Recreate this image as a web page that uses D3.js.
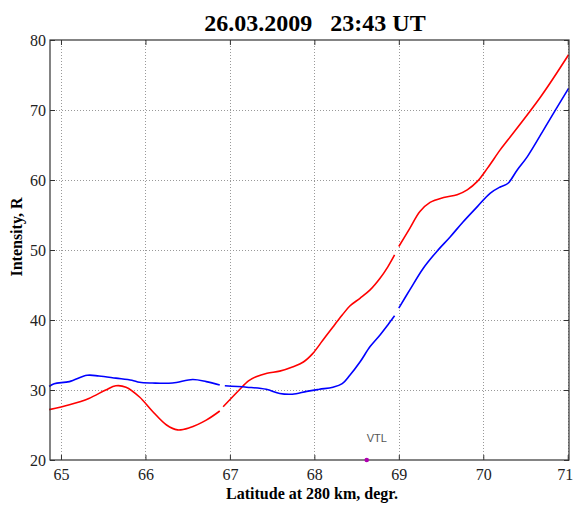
<!DOCTYPE html>
<html>
<head>
<meta charset="utf-8">
<script src="https://cdn.jsdelivr.net/npm/d3@7"></script>
<style>
  html, body { margin: 0; padding: 0; background: #fff; }
  svg { display: block; }
</style>
</head>
<body>
<svg id="chart" width="574" height="506"></svg>
<script>
// Latitude (degrees at 280 km) and intensity (R); null marks a break in the track
const redLat = [64.86, 65.10, 65.33, 65.53, 65.65, 65.77, 65.93, 66.08, 66.25, 66.38, 66.52, 66.72, 66.88, null,
                66.92, 67.11, 67.22, 67.31, 67.44, 67.59, 67.74, 67.87, 67.98, 68.10, 68.22, 68.33, 68.42, 68.54, 68.66, 68.78, 68.87, 68.95, null,
                69.00, 69.13, 69.25, 69.37, 69.53, 69.69, 69.81, 69.93, 70.05, 70.20, 70.29, 70.68, 71.01];
const redVal = [27.2, 27.9, 28.8, 30.0, 30.6, 30.4, 29.0, 27.0, 25.0, 24.3, 24.6, 25.7, 27.0, null,
                27.6, 30.0, 31.3, 31.9, 32.4, 32.7, 33.3, 34.0, 35.2, 37.1, 39.0, 40.7, 42.0, 43.1, 44.3, 46.0, 47.6, 49.3, null,
                50.5, 53.1, 55.5, 56.8, 57.5, 57.9, 58.6, 59.8, 61.7, 64.3, 65.7, 71.9, 77.9];

const blueLat = [64.86, 64.92, 65.10, 65.31, 65.45, 65.65, 65.84, 65.93, 66.08, 66.32, 66.56, 66.72, 66.88, null,
                 66.94, 67.20, 67.43, 67.59, 67.74, 67.91, 68.06, 68.22, 68.33, 68.42, 68.54, 68.66, 68.78, 68.87, 68.95, null,
                 69.00, 69.13, 69.29, 69.45, 69.61, 69.76, 69.93, 70.08, 70.20, 70.29, 70.40, 70.52, 70.76, 71.01];
const blueVal = [30.5, 30.9, 31.2, 32.1, 32.0, 31.7, 31.4, 31.1, 31.0, 31.0, 31.5, 31.2, 30.7, null,
                 30.6, 30.4, 30.1, 29.5, 29.4, 29.8, 30.1, 30.4, 30.9, 32.1, 34.0, 36.2, 37.9, 39.3, 40.6, null,
                 41.7, 44.3, 47.4, 49.8, 51.9, 54.0, 56.2, 58.1, 59.0, 59.5, 61.4, 63.3, 68.1, 73.1];

const xTicks = [65, 66, 67, 68, 69, 70, 71];
const yTicks = [20, 30, 40, 50, 60, 70, 80];

const stationName = "VTL";
const stationLat = 68.62;

const titleText = "26.03.2009   23:43 UT";
const xLabel = "Latitude at 280 km, degr.";
const yLabel = "Intensity, R";

const svg = d3.select("#chart");
const plotL = 50, plotR = 569, plotT = 40, plotB = 460;

const x = d3.scaleLinear().domain([64.870, 71.015]).range([plotL, plotR]);
const y = d3.scaleLinear().domain([20, 80]).range([plotB, plotT]);

const serif = "'Liberation Serif', 'Times New Roman', serif";
const frameColor = "#333";

// dotted grid
const grid = svg.append("g").attr("stroke", "#999").attr("stroke-width", 1)
  .attr("stroke-dasharray", "1,2").attr("shape-rendering", "crispEdges");
grid.selectAll("line.gx").data(xTicks).join("line").attr("class", "gx")
  .attr("x1", d => Math.round(x(d)) + 0.5).attr("x2", d => Math.round(x(d)) + 0.5)
  .attr("y1", plotT).attr("y2", plotB);
grid.selectAll("line.gy").data(yTicks.filter(d => d > 20 && d < 80)).join("line").attr("class", "gy")
  .attr("x1", plotL).attr("x2", plotR)
  .attr("y1", d => Math.round(y(d)) + 0.5).attr("y2", d => Math.round(y(d)) + 0.5);

// curves
function track(lats, vals) {
  return lats.map((lat, i) => ({ lat, v: vals[i] }));
}
const line = d3.line()
  .defined(d => d.lat != null && d.v != null)
  .x(d => x(d.lat)).y(d => y(d.v))
  .curve(d3.curveCatmullRom.alpha(0.5));

svg.append("path").datum(track(redLat, redVal))
  .attr("fill", "none").attr("stroke", "#ff0000").attr("stroke-width", 1.6)
  .attr("d", line);
svg.append("path").datum(track(blueLat, blueVal))
  .attr("fill", "none").attr("stroke", "#0000ff").attr("stroke-width", 1.6)
  .attr("d", line);

// axes with inward ticks on all four sides
const tickLen = 5;
const axBottom = d3.axisBottom(x).tickValues(xTicks).tickSizeInner(-tickLen).tickSizeOuter(0).tickPadding(9).tickFormat(d3.format("d"));
const axTop = d3.axisTop(x).tickValues(xTicks).tickSizeInner(-tickLen).tickSizeOuter(0).tickFormat("");
const axLeft = d3.axisLeft(y).tickValues(yTicks).tickSizeInner(-tickLen).tickSizeOuter(0).tickPadding(4).tickFormat(d3.format("d"));
const axRight = d3.axisRight(y).tickValues(yTicks).tickSizeInner(-tickLen).tickSizeOuter(0).tickFormat("");

function styleAxis(g) {
  g.attr("font-family", null).attr("font-size", null);
  g.select(".domain").remove();
  g.selectAll(".tick line").attr("stroke", frameColor);
  g.selectAll(".tick text").style("font-family", serif).style("font-size", "16px").attr("fill", "#222");
}
const gx = svg.append("g").attr("transform", `translate(0,${plotB})`).call(axBottom).call(styleAxis);
svg.append("g").attr("transform", `translate(0,${plotT})`).call(axTop).call(styleAxis);
svg.append("g").attr("transform", `translate(${plotL},0)`).call(axLeft).call(styleAxis);
svg.append("g").attr("transform", `translate(${plotR},0)`).call(axRight).call(styleAxis);
// keep the last latitude label inside the canvas
gx.selectAll(".tick text").filter(d => d === 71).attr("dx", -3);

// frame
svg.append("rect")
  .attr("x", plotL).attr("y", plotT).attr("width", plotR - plotL).attr("height", plotB - plotT)
  .attr("fill", "none").attr("stroke", frameColor).attr("stroke-width", 1.2);

// station marker
svg.append("circle")
  .attr("cx", x(stationLat)).attr("cy", plotB).attr("r", 2.3)
  .attr("fill", "#b000b0");
svg.append("text")
  .attr("x", x(stationLat) + 10).attr("y", plotB - 18)
  .attr("text-anchor", "middle")
  .style("font-family", "'Liberation Sans', Arial, sans-serif").style("font-size", "11px")
  .attr("fill", "#555").text(stationName);

// title and axis labels
svg.append("text")
  .attr("x", 315).attr("y", 31).attr("text-anchor", "middle")
  .style("white-space", "pre")
  .style("font-family", serif).style("font-size", "24px").style("font-weight", "bold")
  .text(titleText);
svg.append("text")
  .attr("x", 312).attr("y", 499).attr("text-anchor", "middle")
  .style("font-family", serif).style("font-size", "16px").style("font-weight", "bold")
  .text(xLabel);
svg.append("text")
  .attr("transform", "translate(22,237) rotate(-90)").attr("text-anchor", "middle")
  .style("font-family", serif).style("font-size", "16px").style("font-weight", "bold")
  .text(yLabel);
</script>
</body>
</html>
